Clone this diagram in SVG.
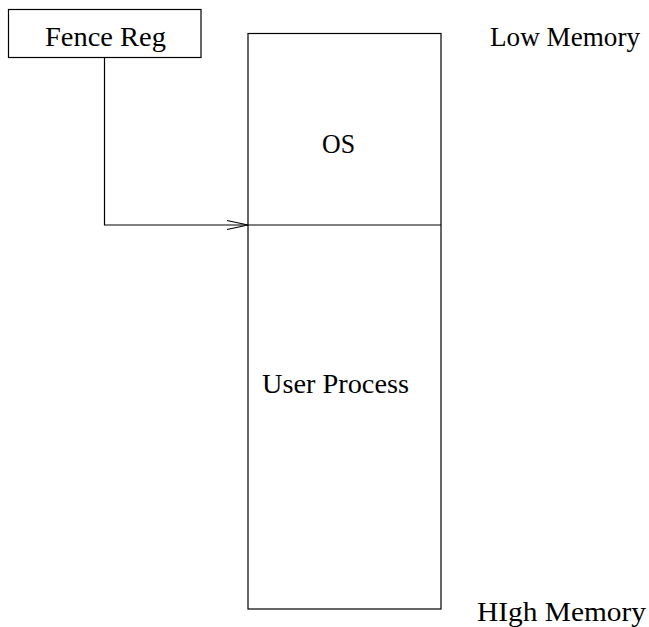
<svg xmlns="http://www.w3.org/2000/svg" width="649" height="627" viewBox="0 0 649 627">
  <style>
    .box { fill: none; stroke: #000; stroke-width: 1.2; }
    .lbl { font-family: "Liberation Serif", "Times New Roman", serif; font-size: 28px; fill: #000; }
    .wire { fill: none; stroke: #000; stroke-width: 1.2; }
  </style>
  <rect width="649" height="627" fill="#fff"/>

  <g id="fence-reg">
    <rect class="box" x="8.5" y="9.5" width="192.5" height="48"/>
    <text class="lbl" x="45" y="46" textLength="121" lengthAdjust="spacingAndGlyphs">Fence Reg</text>
  </g>

  <g id="memory">
    <rect class="box" x="248" y="33.5" width="193" height="575.5"/>
    <line class="box" x1="248" y1="225" x2="441" y2="225"/>
  </g>

  <g id="os">
    <text class="lbl" x="322" y="153" textLength="33" lengthAdjust="spacingAndGlyphs">OS</text>
  </g>

  <g id="user-process">
    <text class="lbl" x="262" y="393" textLength="147" lengthAdjust="spacingAndGlyphs">User Process</text>
  </g>

  <g id="low-memory">
    <text class="lbl" x="490" y="46" textLength="150" lengthAdjust="spacingAndGlyphs">Low Memory</text>
  </g>

  <g id="high-memory">
    <text class="lbl" x="477" y="621" textLength="169" lengthAdjust="spacingAndGlyphs">HIgh Memory</text>
  </g>

  <g id="connectors">
    <polyline class="wire" points="104.5,57.5 104.5,225 248,225"/>
    <polyline class="wire" points="227,220.5 248,225 227,229.5"/>
  </g>
</svg>
